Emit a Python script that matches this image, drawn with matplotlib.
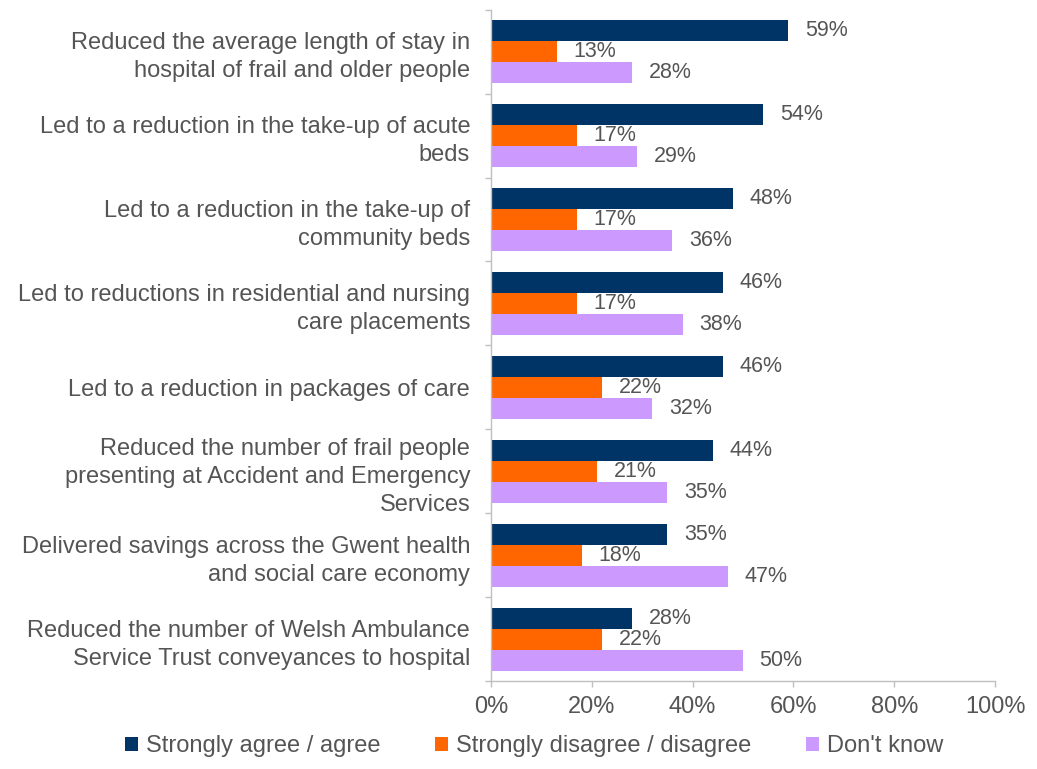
import matplotlib.pyplot as plt
import numpy as np
from matplotlib.patches import Patch

plt.rcParams['font.family'] = ['Liberation Sans', 'DejaVu Sans']

###########################################################################
# data

categories = [
    'Reduced the average length of stay in\nhospital of frail and older people',
    'Led to a reduction in the take-up of acute\nbeds',
    'Led to a reduction in the take-up of\ncommunity beds',
    'Led to reductions in residential and nursing\ncare placements',
    'Led to a reduction in packages of care',
    'Reduced the number of frail people\npresenting at Accident and Emergency\nServices',
    'Delivered savings across the Gwent health\nand social care economy',
    'Reduced the number of Welsh Ambulance\nService Trust conveyances to hospital',
]
agree = [59, 54, 48, 46, 46, 44, 35, 28]
disagree = [13, 17, 17, 17, 22, 21, 18, 22]
dont_know = [28, 29, 36, 38, 32, 35, 47, 50]
series_names = ['Strongly agree / agree', 'Strongly disagree / disagree', "Don't know"]
xticks = [0, 20, 40, 60, 80, 100]

colors = ['#003366', '#FF6600', '#CC99FF']
txtCol = '#555555'
axCol = '#BFBFBF'

###########################################################################
# plot

fig = plt.figure(figsize=(10.37, 7.69), dpi=100)
ax = fig.add_axes([0.4735, 0.1144, 0.486, 0.873])

pos = np.arange(len(categories))
h = 0.25
allSeries = [agree, disagree, dont_know]
for k, vals in enumerate(allSeries):
    yk = pos + (k - 1) * h
    ax.barh(yk, vals, height=h, color=colors[k], edgecolor='none')
    for y, v in zip(yk, vals):
        ax.text(v + 3.3, y, '%d%%' % v, va='center', ha='left',
                fontsize=15.5, color=txtCol)

ax.set_xlim(0, 100)
ax.set_ylim(len(categories) - 0.5, -0.5)
ax.set_xticks(xticks)
ax.set_xticklabels(['%d%%' % t for t in xticks], fontsize=17, color=txtCol)
ax.set_yticks(pos)
ax.set_yticklabels(categories, fontsize=17, color=txtCol, linespacing=1.35)
ax.set_yticks(np.arange(-0.5, len(categories)), minor=True)
ax.tick_params(axis='y', which='major', length=0, pad=15)
ax.tick_params(axis='y', which='minor', length=4, color=axCol, width=1)
ax.tick_params(axis='x', length=4, color=axCol, width=1, pad=7, direction='out')

for s in ['top', 'right']:
    ax.spines[s].set_visible(False)
for s in ['left', 'bottom']:
    ax.spines[s].set_color(axCol)
    ax.spines[s].set_linewidth(1)

handles = [Patch(facecolor=c, edgecolor='none') for c in colors]
fig.legend(handles, series_names, loc='lower center', bbox_to_anchor=(0.515, -0.012),
           ncol=3, frameon=False, fontsize=17, labelcolor=txtCol,
           handlelength=0.55, handleheight=0.55, handletextpad=0.35, columnspacing=2.3)

fig.savefig('out.png', dpi=100)
